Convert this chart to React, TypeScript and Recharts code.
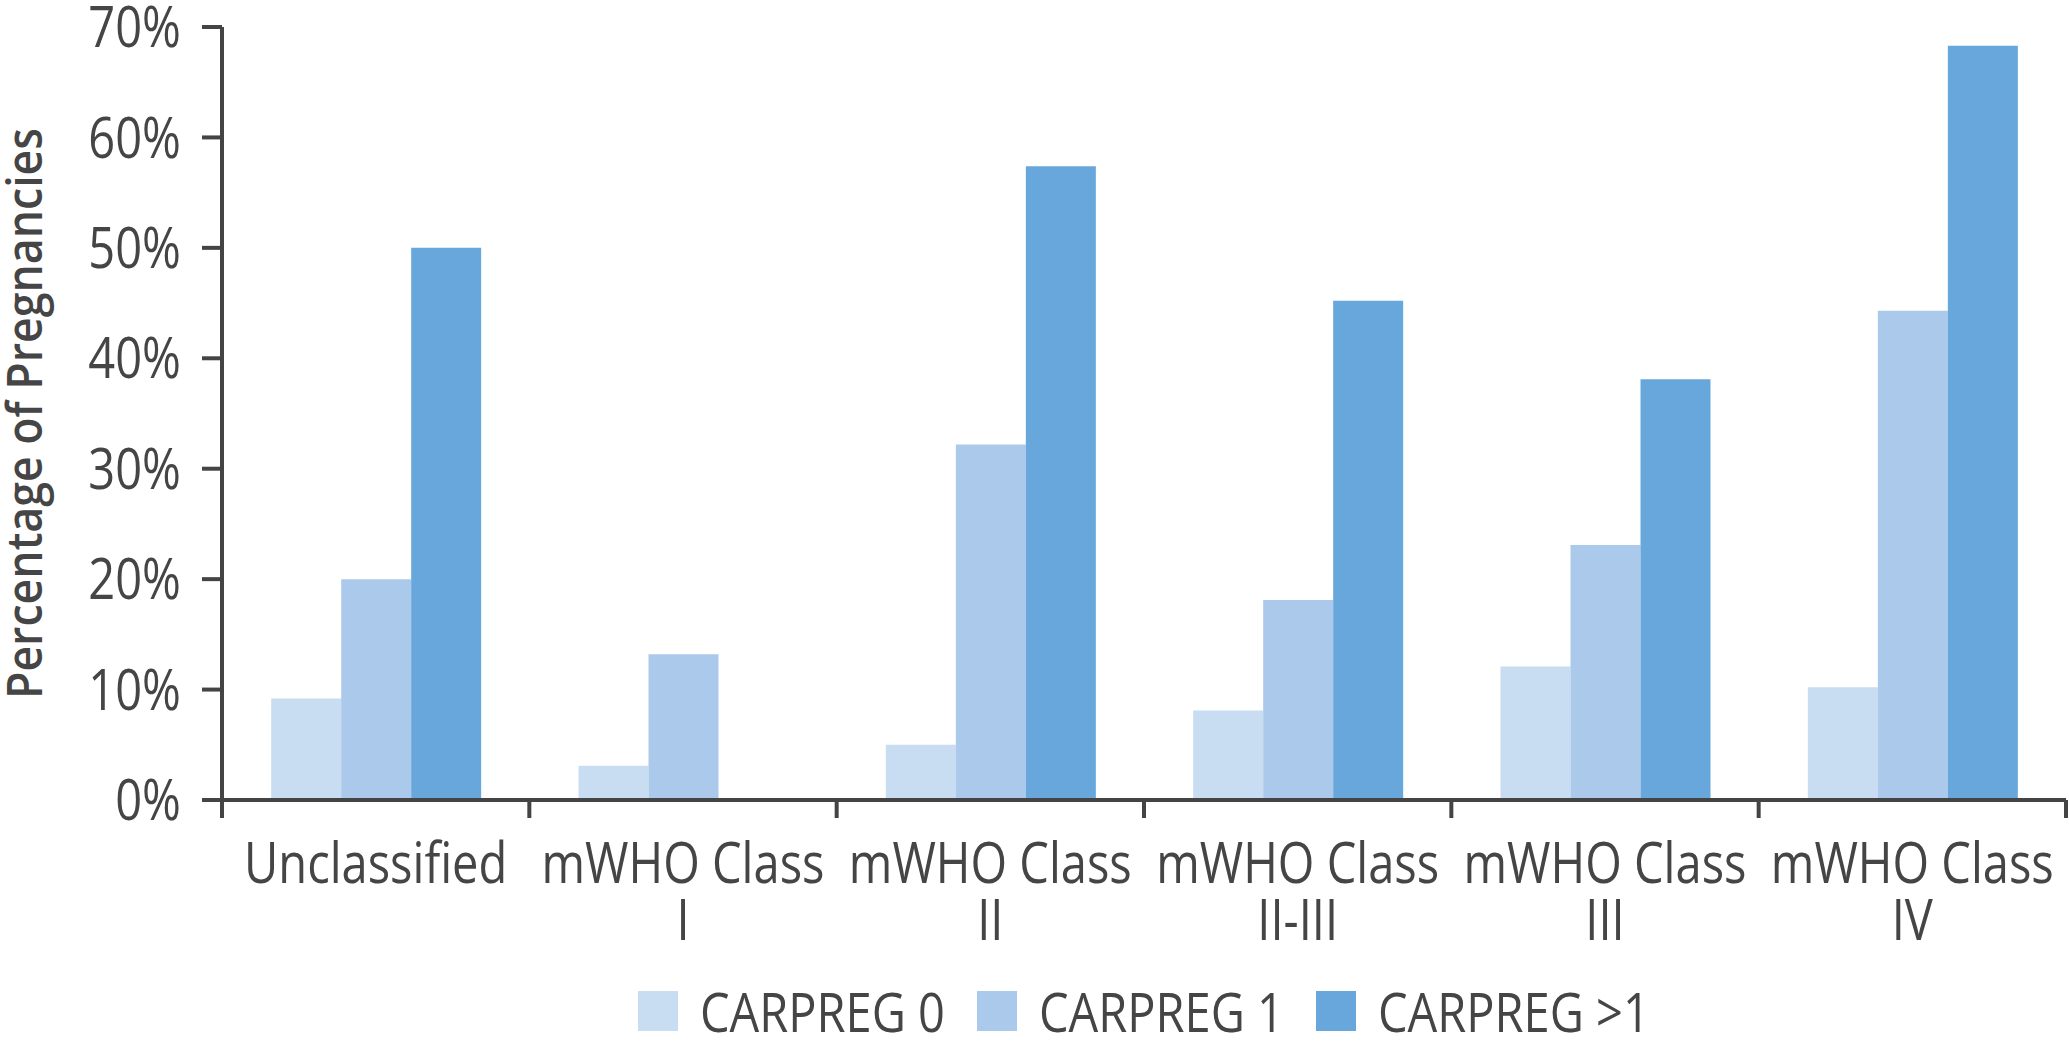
import React from 'react';
import { BarChart, Bar, XAxis, YAxis, Legend, Label } from 'recharts';

const categories = ['Unclassified', 'mWHO Class I', 'mWHO Class II', 'mWHO Class II-III', 'mWHO Class III', 'mWHO Class IV'];
const categoryLines = [['Unclassified'], ['mWHO Class', 'I'], ['mWHO Class', 'II'], ['mWHO Class', 'II-III'], ['mWHO Class', 'III'], ['mWHO Class', 'IV']];
const carpreg0 = [9.2, 3.1, 5.0, 8.1, 12.1, 10.2];
const carpreg1 = [20.0, 13.2, 32.2, 18.1, 23.1, 44.3];
const carpregGt1 = [50.0, 0, 57.4, 45.2, 38.1, 68.3];
const yTicks = [0, 10, 20, 30, 40, 50, 60, 70];
const seriesNames = ['CARPREG 0', 'CARPREG 1', 'CARPREG >1'];
const seriesColors = ['#c8dcf2', '#abc9ea', '#68a7db'];
const yAxisTitle = 'Percentage of Pregnancies';

const data = categories.map((c, i) => ({
  name: c,
  c0: carpreg0[i],
  c1: carpreg1[i],
  c2: carpregGt1[i],
}));

const FAMILY = "'Open Sans'";
const FONT = "'Open Sans', 'Noto Sans', sans-serif";
const SQUEEZE = 0.84;
const LEGEND_SQUEEZE = 0.87;
const TEXT = '#454545';
const AXIS = '#444444';
const TICK_LEN = 18;

let ctx: CanvasRenderingContext2D | null = null;
const measure = (s: string, size: number, weight = 400) => {
  if (!ctx && typeof document !== 'undefined') ctx = document.createElement('canvas').getContext('2d');
  if (!ctx) return s.length * size * 0.5;
  ctx.font = `${weight} ${size}px ${FAMILY}, sans-serif`;
  return ctx.measureText(s).width;
};

const XTick = (props: any) => {
  const { x, y, payload, index, visibleTicksCount } = props;
  const off = payload && typeof payload.offset === 'number' ? payload.offset : 0;
  const lines = categoryLines[index] || [String(payload.value)];
  const top = y - TICK_LEN;
  return (
    <g>
      <line x1={x - off} x2={x - off} y1={top} y2={y} stroke={AXIS} strokeWidth={4} />
      {index === visibleTicksCount - 1 && (
        <line x1={x + off} x2={x + off} y1={top} y2={y} stroke={AXIS} strokeWidth={4} />
      )}
      <text x={x} y={y + 65} textAnchor="middle" fill={TEXT} fontFamily={FONT} fontSize={56}>
        {lines.map((l, i) => (
          <tspan
            key={i}
            x={x}
            y={y + 65 + i * 57}
            textLength={measure(l, 56) * SQUEEZE}
            lengthAdjust="spacingAndGlyphs"
          >
            {l}
          </tspan>
        ))}
      </text>
    </g>
  );
};

const YTick = (props: any) => {
  const { x, y, payload } = props;
  const s = `${payload.value}%`;
  return (
    <text
      x={x}
      y={y}
      dy="0.36em"
      textAnchor="end"
      fill={TEXT}
      fontFamily={FONT}
      fontSize={56}
      textLength={measure(s, 56) * SQUEEZE}
      lengthAdjust="spacingAndGlyphs"
    >
      {s}
    </text>
  );
};

const YTitle = (props: any) => {
  const vb = props.viewBox || { x: 0, y: 0, width: 0, height: 0 };
  const size = 48;
  const cx = 25;
  const cy = vb.y + vb.height / 2;
  return (
    <text
      x={cx}
      y={cy}
      dy="0.355em"
      transform={`rotate(-90, ${cx}, ${cy})`}
      textAnchor="middle"
      fill={TEXT}
      fontFamily={FONT}
      fontWeight={600}
      fontSize={size}
      textLength={measure(yAxisTitle, size, 600) * 0.93}
      lengthAdjust="spacingAndGlyphs"
    >
      {yAxisTitle}
    </text>
  );
};

const LegendContent = (props: any) => {
  const { payload } = props;
  return (
    <div style={{ display: 'flex', justifyContent: 'center', alignItems: 'center', height: 40 }}>
      {(payload || []).map((p: any, i: number) => {
        const w = measure(String(p.value), 54);
        return (
          <div key={i} style={{ display: 'flex', alignItems: 'center', marginRight: i < payload.length - 1 ? 32 : 0 }}>
            <div style={{ width: 40, height: 40, background: p.color, marginRight: 22 }} />
            <span style={{ position: 'relative', display: 'inline-block', width: w * LEGEND_SQUEEZE, height: 40 }}>
              <span
                style={{
                  position: 'absolute',
                  left: 0,
                  top: 0,
                  width: w,
                  transform: `scaleX(${LEGEND_SQUEEZE})`,
                  transformOrigin: '0 50%',
                  whiteSpace: 'nowrap',
                  fontFamily: FONT,
                  fontSize: 54,
                  color: TEXT,
                  lineHeight: '40px',
                }}
              >
                {p.value}
              </span>
            </span>
          </div>
        );
      })}
    </div>
  );
};

export default function App() {
  return (
    <div style={{ position: 'absolute', left: 0, top: 0, background: '#fff' }}>
      <BarChart
        width={2069}
        height={1045}
        data={data}
        margin={{ top: 27, right: 3, left: 0, bottom: 14 }}
        barCategoryGap="16%"
        barGap={0}
      >
        <XAxis
          dataKey="name"
          axisLine={{ stroke: AXIS, strokeWidth: 4 }}
          tickLine={false}
          tickSize={TICK_LEN}
          tickMargin={0}
          interval={0}
          height={191}
          tick={<XTick />}
        />
        <YAxis
          domain={[0, 70]}
          ticks={yTicks}
          interval={0}
          width={222}
          axisLine={{ stroke: AXIS, strokeWidth: 4 }}
          tickLine={{ stroke: AXIS, strokeWidth: 4 }}
          tickSize={20}
          tickMargin={21}
          tick={<YTick />}
        >
          <Label content={<YTitle />} position="insideLeft" />
        </YAxis>
        <Legend
          verticalAlign="bottom"
          height={40}
          content={<LegendContent />}
          wrapperStyle={{ left: 222, width: 1844 }}
        />
        <Bar dataKey="c0" name={seriesNames[0]} fill={seriesColors[0]} isAnimationActive={false} />
        <Bar dataKey="c1" name={seriesNames[1]} fill={seriesColors[1]} isAnimationActive={false} />
        <Bar dataKey="c2" name={seriesNames[2]} fill={seriesColors[2]} isAnimationActive={false} />
      </BarChart>
    </div>
  );
}
